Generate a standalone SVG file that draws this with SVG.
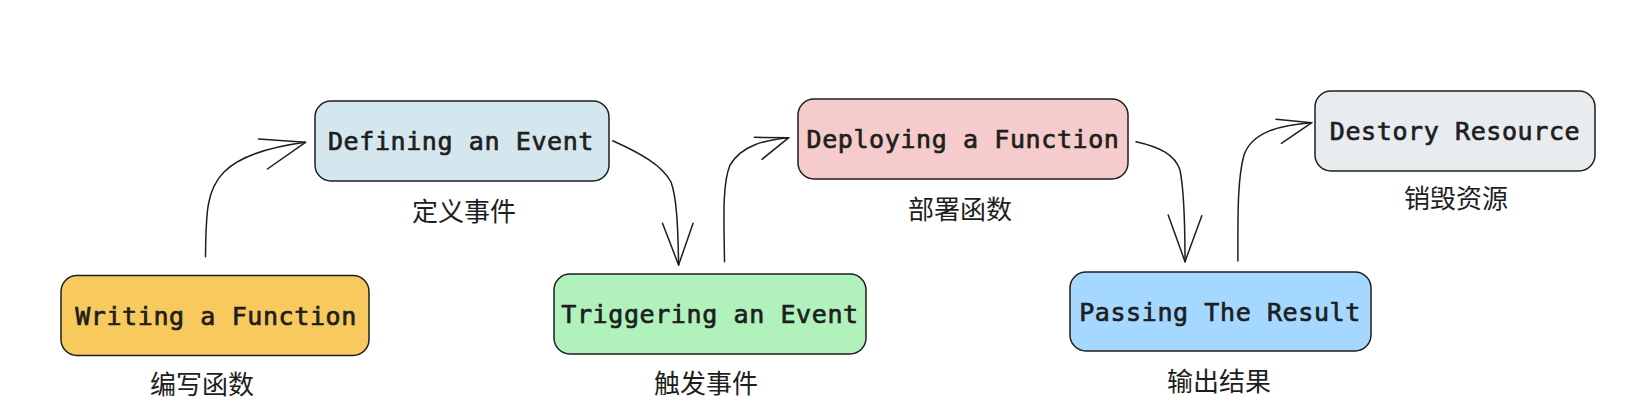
<svg xmlns="http://www.w3.org/2000/svg" width="1640" height="420" viewBox="0 0 1640 420">
<style>
.box{stroke:#1e1e1e;stroke-width:1.5}
.t{font-family:"DejaVu Sans Mono","Liberation Mono",monospace;font-size:25px;letter-spacing:0.6px;fill:#1e1e1e;stroke:#1e1e1e;stroke-width:0.7px;text-anchor:middle}
.l{font-family:"Noto Sans CJK SC","Noto Sans",sans-serif;font-size:26px;fill:#1e1e1e;text-anchor:middle}
.c{fill:none;stroke:#1e1e1e;stroke-width:1.5;stroke-linecap:round;stroke-linejoin:round}
</style>
<rect width="1640" height="420" fill="#ffffff"/>
<g id="connectors">
<path class="c" d="M205.5,256.7 C206,215 206,190 224,172 C240,156 270,147 305.5,142.3"/>
<path class="c" d="M258.5,139 L305.5,142.3 L267.4,169"/>
<path class="c" d="M612.7,140.7 C640,153 662,165 671,182 C677,198 678,230 678.6,265"/>
<path class="c" d="M662.5,223.3 L678.6,265 L693.1,223.3"/>
<path class="c" d="M724.5,261.7 C724,220 722,185 730,165 C742,145 765,140 788.8,137.7"/>
<path class="c" d="M754.4,137.3 L788.8,137.7 L762,159.3"/>
<path class="c" d="M1136,141.7 C1160,147 1175,155 1180,170 C1184,190 1185,230 1185,261.7"/>
<path class="c" d="M1168.2,215 L1185,261.7 L1201.8,215.7"/>
<path class="c" d="M1237.9,261 C1238,220 1237,180 1244,155 C1252,132 1280,125 1311.8,122.7"/>
<path class="c" d="M1276,119.3 L1311.8,122.7 L1281.4,143.3"/>
</g>
<g id="writing">
<rect class="box" x="61" y="275.5" width="308" height="80" rx="16" fill="#f8c95d"/>
<text class="t" x="216" y="325">Writing a Function</text>
<text class="l" x="202" y="394">编写函数</text>
</g>
<g id="defining">
<rect class="box" x="315" y="101" width="294" height="80" rx="16" fill="#d5e7ee"/>
<text class="t" x="461" y="150">Defining an Event</text>
<text class="l" x="464" y="221">定义事件</text>
</g>
<g id="triggering">
<rect class="box" x="554" y="274" width="312" height="80" rx="16" fill="#b1f2bc"/>
<text class="t" x="710" y="323">Triggering an Event</text>
<text class="l" x="706" y="393">触发事件</text>
</g>
<g id="deploying">
<rect class="box" x="798" y="99" width="330" height="80" rx="16" fill="#f5cccb"/>
<text class="t" x="963" y="148">Deploying a Function</text>
<text class="l" x="960" y="219">部署函数</text>
</g>
<g id="passing">
<rect class="box" x="1070" y="272" width="301" height="79" rx="16" fill="#a5d8ff"/>
<text class="t" x="1220" y="321">Passing The Result</text>
<text class="l" x="1219" y="391">输出结果</text>
</g>
<g id="destory">
<rect class="box" x="1315" y="91" width="280" height="80" rx="16" fill="#e9ecef"/>
<text class="t" x="1455" y="140">Destory Resource</text>
<text class="l" x="1456" y="208">销毁资源</text>
</g>
</svg>
